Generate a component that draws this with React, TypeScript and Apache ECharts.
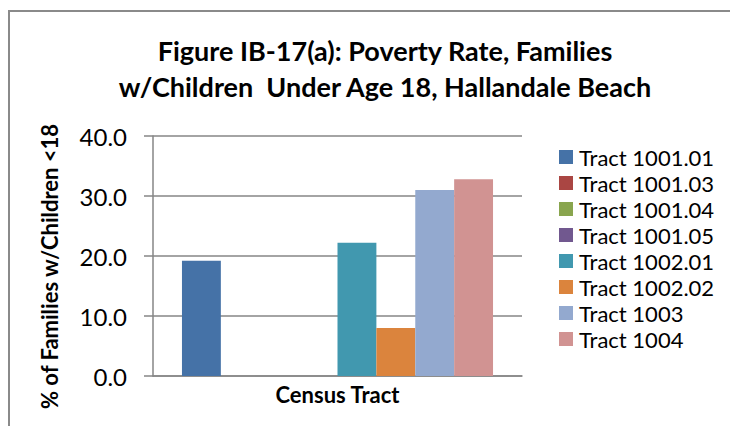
import React, { useEffect, useRef } from "react";
import * as echarts from "echarts";

const categories = ["Census Tract"];
const seriesNames = [
  "Tract 1001.01",
  "Tract 1001.03",
  "Tract 1001.04",
  "Tract 1001.05",
  "Tract 1002.01",
  "Tract 1002.02",
  "Tract 1003",
  "Tract 1004",
];
const seriesValues = [19.2, 0, 0, 0, 22.2, 8.0, 31.0, 32.8];
const seriesColors = [
  "#4572A7",
  "#AA4643",
  "#89A54E",
  "#71588F",
  "#4198AF",
  "#DB843D",
  "#93A9CF",
  "#D19392",
];
const yTicks = { min: 0, max: 40, interval: 10 };
const titleText = "Figure IB-17(a): Poverty Rate, Families\nw/Children  Under Age 18, Hallandale Beach";
const yAxisTitle = "% of Families w/Children <18";

const FONT = "Lato, 'Liberation Sans', sans-serif";

export default function App() {
  const ref = useRef<HTMLDivElement>(null);
  useEffect(() => {
    if (!ref.current) return;
    const chart = echarts.init(ref.current, undefined, { renderer: "svg" });
    chart.setOption({
      animation: false,
      backgroundColor: "#ffffff",
      textStyle: { fontFamily: FONT },
      title: {
        text: titleText,
        left: 377,
        top: 24,
        textAlign: "center",
        padding: 0,
        textStyle: {
          fontFamily: FONT,
          fontWeight: "bold",
          fontSize: 27,
          lineHeight: 36,
          color: "#000000",
        },
      },
      graphic: [
        {
          type: "rect",
          shape: { x: 1, y: 3, width: 900, height: 600 },
          style: { fill: "none", stroke: "#8a8a8a", lineWidth: 2 },
          silent: true,
        },
      ],
      legend: {
        orient: "vertical",
        left: 551,
        top: 138,
        icon: "rect",
        itemWidth: 14,
        itemHeight: 14,
        itemGap: 4,
        padding: 0,
        textStyle: { fontFamily: FONT, fontSize: 22, lineHeight: 22, color: "#000000", padding: [0, 0, 0, 1] },
        data: seriesNames,
      },
      grid: { left: 145, top: 128, width: 369, height: 240, containLabel: false },
      xAxis: {
        type: "category",
        data: categories,
        axisLine: { show: true, lineStyle: { color: "#868686", width: 1.5 } },
        axisTick: { show: false },
        axisLabel: {
          margin: 7,
          fontFamily: FONT,
          fontWeight: "bold",
          fontSize: 22,
          lineHeight: 22,
          color: "#000000",
        },
      },
      yAxis: {
        type: "value",
        min: yTicks.min,
        max: yTicks.max,
        interval: yTicks.interval,
        name: yAxisTitle,
        nameLocation: "middle",
        nameGap: 93,
        nameRotate: 90,
        nameTextStyle: {
          fontFamily: FONT,
          fontWeight: "bold",
          fontSize: 22,
          lineHeight: 22,
          color: "#000000",
          padding: [0, 21, 0, 0],
        },
        axisLine: { show: true, lineStyle: { color: "#868686", width: 1.5 } },
        axisTick: { show: true, length: 9, lineStyle: { color: "#868686", width: 1.5 } },
        splitLine: { show: true, lineStyle: { color: "#868686", width: 1.5 } },
        axisLabel: {
          margin: 26,
          fontFamily: FONT,
          fontSize: 24,
          color: "#000000",
          formatter: (v: number) => v.toFixed(1),
        },
      },
      series: seriesNames.map((name, i) => ({
        name,
        type: "bar",
        data: [seriesValues[i]],
        barGap: "0%",
        barCategoryGap: "15.7%",
        itemStyle: { color: seriesColors[i] },
      })),
    });
    return () => chart.dispose();
  }, []);
  return <div ref={ref} style={{ width: 730, height: 426, marginBottom: -8 }} />;
}
